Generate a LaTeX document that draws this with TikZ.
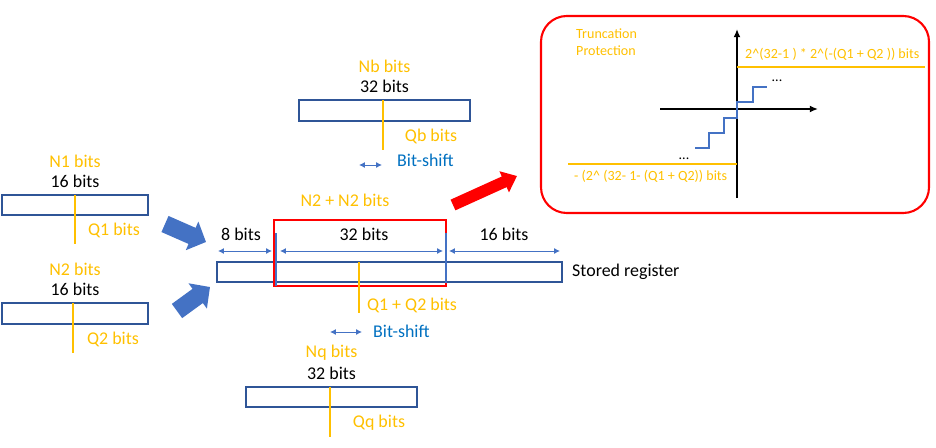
\documentclass[tikz,border=0pt]{standalone}
\usepackage{fontspec}
\setmainfont{Carlito}
\usetikzlibrary{arrows.meta}
\definecolor{regblue}{HTML}{2F5597}
\definecolor{fatblue}{HTML}{4472C4}
\definecolor{shiftblue}{HTML}{0070C0}
\definecolor{qyellow}{HTML}{FFC000}
\tikzset{
  lbl/.style={font=\fontsize{15.3}{18}\selectfont, inner sep=0pt},
  ylbl/.style={lbl, text=qyellow},
  slbl/.style={lbl, text=shiftblue},
  tiny/.style={font=\fontsize{12}{14.5}\selectfont, inner sep=0pt},
  reg/.style={draw=regblue, line width=1pt},
  qline/.style={draw=qyellow, line width=1.7pt},
  dim/.style={draw=fatblue, line width=0.8pt, {Latex[length=5pt,width=5pt]}-{Latex[length=5pt,width=5pt]}},
  fatb/.style={draw=fatblue, line width=15pt, -{Triangle[length=13pt,width=26pt]}},
  fatr/.style={draw=red, line width=10pt, -{Triangle[length=12pt,width=19pt]}},
  axis/.style={line width=1.6pt, -{Latex[length=7pt,width=6pt]}},
}
\begin{document}
\begin{tikzpicture}[x=0.03cm, y=-0.03cm]
\useasboundingbox (0,0) rectangle (936,447);
% the four small registers
\foreach \r/\xa/\ya/\xb/\yb/\xq/\yq/\nt/\st/\qt/\xt in {n1/2/195/148/215/75/244/N1/16/Q1/114, n2/2/303/148/324/73/353/N2/16/Q2/113, nb/299/100/470/121/383/150/Nb/32/Qb/431, nq/246/387/417/407/330/437/Nq/32/Qq/379}
{
  \draw[reg] (\xa,\ya) rectangle (\xb,\yb);
  \draw[qline] (\xq,\ya) -- (\xq,\yq);
  \node[ylbl] (\r-n) at ({(\xa+\xb)/2},\ya-34) {\nt\ bits};
  \node[lbl] (\r-s) at ({(\xa+\xb)/2},\ya-14) {\st\ bits};
  \node[ylbl] (\r-q) at (\xt,\yq-14) {\qt\ bits};
}
% stored register
\draw[reg] (217,262) rectangle (562,282);
\node[lbl, anchor=west] (store) at (572,272) {Stored register};
\draw[red, line width=1pt] (274,220) rectangle (446,286);
\draw[fatblue, line width=1.7pt] (276,233) -- (276,286);
\draw[fatblue, line width=1.7pt] (446,233) -- (446,283);
\foreach \c/\x in {d0/218, d1/272, d2/280, d3/443, d4/449, d5/560}
  \coordinate (\c) at (\x,251);
\draw[dim] (d0) -- (d1);
\draw[dim] (d2) -- (d3);
\draw[dim] (d4) -- (d5);
\node[lbl] (w8) at (241,234) {8 bits};
\node[lbl] (w32) at (364,234) {32 bits};
\node[lbl] (w16) at (504,234) {16 bits};
\node[ylbl] (nsum) at (345,200) {N2 + N2 bits};
\draw[qline] (359,262) -- (359,313);
\node[ylbl] (qsum) at (412,305) {Q1 + Q2 bits};
% bit shifts
\coordinate (s0) at (330,332);
\coordinate (s1) at (362,332);
\draw[dim] (s0) -- (s1);
\node[slbl, anchor=west] (shift1) at (373,331) {Bit-shift};
\coordinate (t0) at (359,165);
\coordinate (t1) at (382,165);
\draw[dim] (t0) -- (t1);
\node[slbl, anchor=west] (shift2) at (397,160) {Bit-shift};
% fat arrows
\coordinate (a1) at (165,224);
\coordinate (b1) at (206,242);
\coordinate (a2) at (177,311);
\coordinate (b2) at (210,287);
\coordinate (a3) at (453,205);
\coordinate (b3) at (517,176);
\draw[fatb] (a1) -- (b1);
\draw[fatb] (a2) -- (b2);
\draw[fatr] (a3) -- (b3);
% truncation protection
\draw[red, line width=1.8pt, rounded corners=22pt] (541,16) rectangle (929,213);
\node[tiny, text=qyellow, anchor=north west, align=left] (trunc) at (576,29) {Truncation\\Protection};
\coordinate (xl) at (660,109);
\coordinate (xr) at (818,109);
\coordinate (yb) at (737,198);
\coordinate (yt) at (737,29);
\draw[axis] (xl) -- (xr);
\draw[axis] (yb) -- (yt);
\draw[qline] (737,67) -- (925,67);
\draw[qline] (568,164) -- (737,164);
\node[tiny, text=qyellow, anchor=west] (upper) at (745,54) {2\textasciicircum(32-1 ) * 2\textasciicircum(-(Q1 + Q2 )) bits};
\node[tiny, text=qyellow, anchor=west] (lower) at (574,176) {- (2\textasciicircum\ (32- 1- (Q1 + Q2)) bits};
\draw[fatblue, line width=0.9pt] (695,148) -| (709,133) -| (724,118) -| (737,102) -| (753,87) -- (767,87);
\node[tiny, anchor=base] (dots1) at (777,81) {...};
\node[tiny, anchor=base] (dots2) at (684,159) {...};
\end{tikzpicture}
\end{document}
